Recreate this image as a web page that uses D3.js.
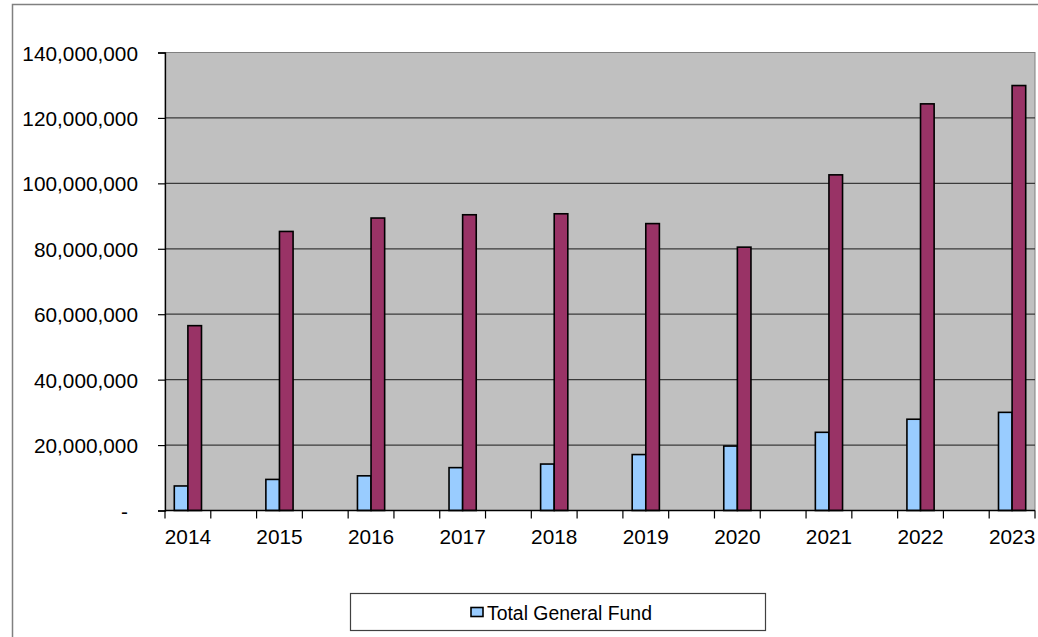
<html>
  <head>
    <script src="https://d3js.org/d3.v7.min.js"></script>
    <style>
      body { margin: 0; background: white; }
      svg { font-family: "Liberation Sans", Arial, Helvetica, sans-serif; }
      .grid line { stroke: #3a3a3a; stroke-width: 1.2; }
      .bar { stroke: black; stroke-width: 1.6; }
    </style>
  </head>
  <body>
    <svg id="chart" width="1038" height="637"></svg>
    <script>
      // values
      var years = [2014, 2015, 2016, 2017, 2018, 2019, 2020, 2021, 2022, 2023];
      var generalFund = [7.5e6, 9.5e6, 10.6e6, 13.1e6, 14.2e6, 17.1e6, 19.7e6, 23.9e6, 27.9e6, 30.0e6];
      var allFunds = [56.5e6, 85.3e6, 89.4e6, 90.4e6, 90.7e6, 87.7e6, 80.5e6, 102.6e6, 124.3e6, 129.9e6];
      var yTicks = [0, 20e6, 40e6, 60e6, 80e6, 100e6, 120e6, 140e6];
      var seriesNames = ['Total General Fund', 'Total All Funds'];
      var seriesColors = ['#99ccff', '#993366'];

      var plot = { left: 165, top: 52.5, right: 1035, bottom: 510.5 };
      var svg = d3.select('#chart');

      // outer chart frame (runs off the right / bottom edge)
      svg.append('rect')
        .attr('x', 12.5).attr('y', 4.5).attr('width', 1040).attr('height', 640)
        .attr('fill', 'white').attr('stroke', '#808080').attr('stroke-width', 1.5);

      // 19 slots: every year plus an empty slot between years
      var slots = d3.range(years.length * 2 - 1);
      var x = d3.scaleBand().domain(slots).range([plot.left, plot.right]);
      var xInner = d3.scaleBand().domain([0, 1]).range([-13.6, 13.6]);
      var y = d3.scaleLinear().domain([0, 140e6]).range([plot.bottom, plot.top]);

      svg.append('rect')
        .attr('x', plot.left).attr('y', plot.top)
        .attr('width', plot.right - plot.left).attr('height', plot.bottom - plot.top)
        .attr('fill', '#c0c0c0').attr('stroke', '#808080').attr('stroke-width', 1);

      svg.append('g').attr('class', 'grid')
        .selectAll('line').data(yTicks.slice(1, -1)).enter().append('line')
        .attr('x1', plot.left).attr('x2', plot.right)
        .attr('y1', function(d) { return y(d); }).attr('y2', function(d) { return y(d); });

      // bars
      var groups = svg.append('g').selectAll('g').data(years).enter().append('g')
        .attr('transform', function(d, i) { return 'translate(' + (x(i * 2) + x.bandwidth() / 2) + ',0)'; });

      groups.selectAll('rect')
        .data(function(d, i) { return [generalFund[i], allFunds[i]]; })
        .enter().append('rect')
        .attr('class', 'bar')
        .attr('x', function(d, j) { return xInner(j); })
        .attr('width', xInner.bandwidth())
        .attr('y', function(d) { return y(d); })
        .attr('height', function(d) { return y(0) - y(d); })
        .attr('fill', function(d, j) { return seriesColors[j]; });

      // y axis
      var yAxis = d3.axisLeft(y)
        .tickValues(yTicks)
        .tickSize(7)
        .tickPadding(20)
        .tickFormat(function(d) { return d === 0 ? '-' : d3.format(',')(d); });
      var gY = svg.append('g').attr('transform', 'translate(' + plot.left + ',0)').call(yAxis);
      gY.select('.domain').attr('stroke', 'black').attr('stroke-width', 1.3);
      gY.selectAll('.tick line').attr('stroke', 'black').attr('stroke-width', 1.2);
      gY.selectAll('.tick text')
        .attr('font-size', 20.8).attr('fill', 'black').attr('dy', '0.36em')
        .attr('dx', function(d) { return d === 0 ? -10 : 0; });

      // x axis: tick at every slot edge, label on every other slot
      var edges = slots.map(function(s) { return x(s); }).concat([plot.right]);
      var gX = svg.append('g');
      gX.append('line')
        .attr('x1', plot.left).attr('x2', plot.right)
        .attr('y1', plot.bottom).attr('y2', plot.bottom)
        .attr('stroke', 'black').attr('stroke-width', 1.3);
      gX.selectAll('.xtick').data(edges).enter().append('line')
        .attr('x1', function(d) { return d; }).attr('x2', function(d) { return d; })
        .attr('y1', plot.bottom).attr('y2', plot.bottom + 8)
        .attr('stroke', 'black').attr('stroke-width', 1.2);
      gX.selectAll('text').data(years).enter().append('text')
        .attr('x', function(d, i) { return x(i * 2) + x.bandwidth() / 2; })
        .attr('y', 543.5)
        .attr('text-anchor', 'middle')
        .attr('font-size', 20.8)
        .text(function(d) { return d; });

      // legend (only the first series shows in the reference)
      var legend = svg.append('g');
      legend.append('rect')
        .attr('x', 350.5).attr('y', 593.5).attr('width', 415).attr('height', 37)
        .attr('fill', 'white').attr('stroke', '#404040').attr('stroke-width', 1.2);
      legend.append('rect')
        .attr('x', 471).attr('y', 607.5).attr('width', 12).attr('height', 9)
        .attr('fill', seriesColors[0]).attr('stroke', 'black').attr('stroke-width', 1.6);
      legend.append('text')
        .attr('x', 487).attr('y', 619.5)
        .attr('font-size', 19.4)
        .text(seriesNames[0]);
    </script>
  </body>
</html>
